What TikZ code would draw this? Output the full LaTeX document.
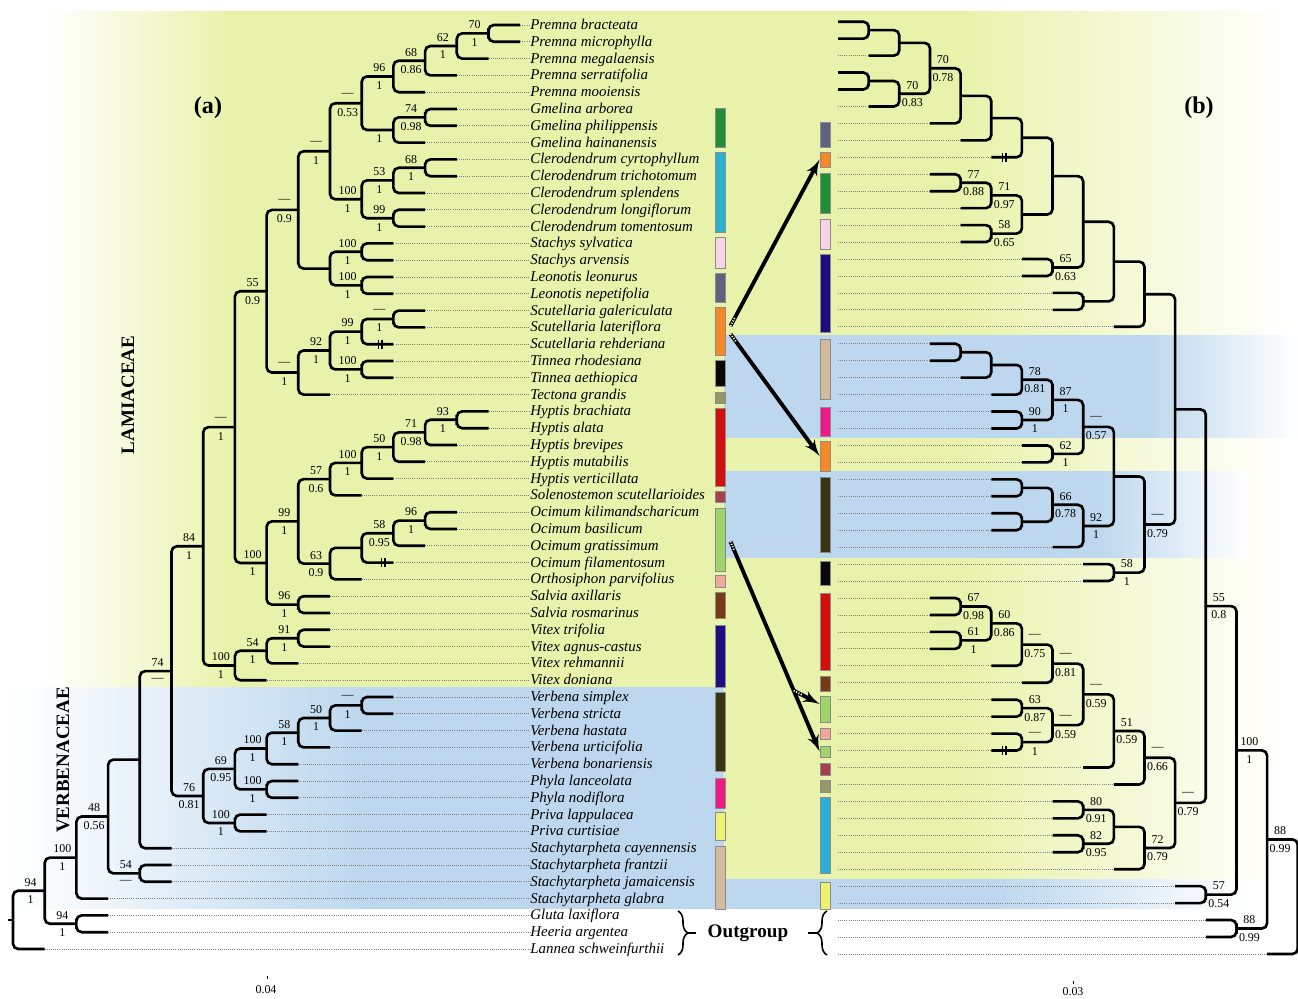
\documentclass[tikz,border=0pt]{standalone}
\usepackage{fontspec}
\setmainfont{Liberation Serif}
\usetikzlibrary{calc,fit,arrows,decorations.pathreplacing}
\definecolor{ylw}{RGB}{233,242,170}
\definecolor{blu}{RGB}{189,216,238}
\definecolor{cgmel}{RGB}{31,143,56}
\definecolor{ccler}{RGB}{44,176,210}
\definecolor{cstac}{RGB}{248,212,230}
\definecolor{cleon}{RGB}{94,100,128}
\definecolor{cscut}{RGB}{246,136,40}
\definecolor{ctinn}{RGB}{8,8,8}
\definecolor{ctect}{RGB}{150,152,106}
\definecolor{chypt}{RGB}{210,16,14}
\definecolor{csole}{RGB}{166,64,80}
\definecolor{cocim}{RGB}{158,212,108}
\definecolor{corth}{RGB}{242,168,152}
\definecolor{csalv}{RGB}{120,58,20}
\definecolor{cvitx}{RGB}{28,14,128}
\definecolor{cverb}{RGB}{58,52,18}
\definecolor{cphyl}{RGB}{238,26,134}
\definecolor{cpriv}{RGB}{238,242,114}
\definecolor{cstta}{RGB}{210,186,156}
\tikzset{
    br/.style={draw, line width=1.5pt, rounded corners=3pt},
    tipline/.style={draw=black!50, line width=0.4pt, dash pattern=on 0.4pt off 0.8pt},
    taxon/.style={anchor=base west, inner sep=0pt, font=\fontsize{8.5}{9}\selectfont\itshape},
    sup/.style={inner sep=0pt, font=\fontsize{6.8}{7}\selectfont},
    bar/.style={draw=black!45, line width=0.5pt, inner sep=0pt},
    line/.style={draw, -latex', line width=2.2pt},
    hatch/.style={draw=white, line width=1.1pt, dash pattern=on 0.6pt off 0.9pt},
    brk/.style={draw, line width=0.8pt},
    brc/.style={draw, line width=0.9pt, decorate, decoration={brace, amplitude=0.2cm}},
    family/.style={font=\fontsize{10.8}{11}\selectfont\bfseries, rotate=90},
    panel/.style={font=\fontsize{13.7}{14}\selectfont\bfseries}
}
% clade of the left tree: name, level, child, child, above, below
\newcommand\cladeL[6]{%
    \coordinate (tmp) at ($(#3)!.5!(#4)$);
    \coordinate (#1) at (tmp -| L#2);
    \draw[br] (#3) -| (#1) |- (#4);
    \node[sup] (#1t) at ($(#1)+(-14,-8.5)$) {#5};
    \node[sup] (#1b) at ($(#1)+(-14,9)$) {#6};}
% clade of the right tree
\newcommand\cladeR[6]{%
    \coordinate (tmp) at ($(#3)!.5!(#4)$);
    \coordinate (#1) at (tmp -| M#2);
    \draw[br] (#3) -| (#1) |- (#4);
    \node[sup] (#1t) at ($(#1)+(13,-8.5)$) {#5};
    \node[sup] (#1b) at ($(#1)+(13,9)$) {#6};}
\newcommand\brkmark[1]{%
    \draw[brk] ($(#1)+(-1.7,-4.5)$) -- ++(0,9) ($(#1)+(1.7,-4.5)$) -- ++(0,9);}
% colour band fading in strips: colour, x white, x full, y top, y bottom
\newcommand\fade[5]{%
    \foreach \s in {0,...,39} {
        \pgfmathtruncatemacro\p{100*(\s+0.5)/40}
        \fill[#1!\p!white] ({#2+(#3-#2)*\s/40},#4) rectangle ({#2+(#3-#2)*(\s+1)/40},#5);
    }}

\begin{document}
\begin{tikzpicture}[x=0.02cm, y=-0.02cm]
    \useasboundingbox (0,0) rectangle (1298,999);

    % background bands
    \fade{ylw}{45}{230}{11}{687}
    \fill[ylw] (229,11) rectangle (725,687);
    \fade{blu}{10}{360}{687}{909}
    \fill[blu] (359,687) rectangle (725,909);
    \fill[ylw] (724,11) rectangle (961,879);
    \fade{ylw}{1290}{960}{11}{879}
    \fill[blu] (724,335) rectangle (1151,438);
    \fade{blu}{1298}{1150}{335}{438}
    \fill[blu] (724,471) rectangle (1101,558);
    \fade{blu}{1250}{1100}{471}{558}
    \fill[blu] (724,879) rectangle (1001,909);
    \fade{blu}{1245}{1000}{879}{909}

    % levels
    \foreach \k in {0,...,16} \coordinate (L\k) at ({13+31.7*\k},0);
    \foreach \k in {0,...,15} \coordinate (M\k) at ({838+30.65*\k},0);

    % colour bars, left
    \node[bar, fill=cgmel, fit={(715,108) (725,147)}] (lgmel) {};
    \node[bar, fill=ccler, fit={(715,152) (725,232)}] (lcler) {};
    \node[bar, fill=cstac, fit={(715,237) (725,268)}] (lstac) {};
    \node[bar, fill=cleon, fit={(715,273) (725,302)}] (lleon) {};
    \node[bar, fill=cscut, fit={(715,307) (725,355)}] (lscut) {};
    \node[bar, fill=ctinn, fit={(715,360) (725,386)}] (ltinn) {};
    \node[bar, fill=ctect, fit={(715,392) (725,403)}] (ltect) {};
    \node[bar, fill=chypt, fit={(715,408) (725,486)}] (lhypt) {};
    \node[bar, fill=csole, fit={(715,491) (725,502)}] (lsole) {};
    \node[bar, fill=cocim, fit={(715,508) (725,571)}] (locim) {};
    \node[bar, fill=corth, fit={(715,575) (725,587)}] (lorth) {};
    \node[bar, fill=csalv, fit={(715,592) (725,618)}] (lsalv) {};
    \node[bar, fill=cvitx, fit={(715,625) (725,687)}] (lvitx) {};
    \node[bar, fill=cverb, fit={(715,692) (725,771)}] (lverb) {};
    \node[bar, fill=cphyl, fit={(715,778) (725,808)}] (lphyl) {};
    \node[bar, fill=cpriv, fit={(715,812) (725,840)}] (lpriv) {};
    \node[bar, fill=cstta, fit={(715,846) (725,909)}] (lstta) {};
    % colour bars, right
    \node[bar, fill=cleon, fit={(820,122) (830,147)}] (rleon) {};
    \node[bar, fill=cscut, fit={(820,152) (830,167)}] (rscut1) {};
    \node[bar, fill=cgmel, fit={(820,173) (830,213)}] (rgmel) {};
    \node[bar, fill=cstac, fit={(820,219) (830,249)}] (rstac) {};
    \node[bar, fill=cvitx, fit={(820,254) (830,332)}] (rvitx) {};
    \node[bar, fill=cstta, fit={(820,339) (830,399)}] (rstta) {};
    \node[bar, fill=cphyl, fit={(820,407) (830,436)}] (rphyl) {};
    \node[bar, fill=cscut, fit={(820,441) (830,471)}] (rscut2) {};
    \node[bar, fill=cverb, fit={(820,477) (830,552)}] (rverb) {};
    \node[bar, fill=ctinn, fit={(820,561) (830,585)}] (rtinn) {};
    \node[bar, fill=chypt, fit={(820,593) (830,670)}] (rhypt) {};
    \node[bar, fill=csalv, fit={(820,676) (830,691)}] (rsalv) {};
    \node[bar, fill=cocim, fit={(820,696) (830,722)}] (rocim1) {};
    \node[bar, fill=corth, fit={(820,728) (830,739)}] (rorth) {};
    \node[bar, fill=cocim, fit={(820,746) (830,757)}] (rocim2) {};
    \node[bar, fill=csole, fit={(820,763) (830,775)}] (rsole) {};
    \node[bar, fill=ctect, fit={(820,780) (830,792)}] (rtect) {};
    \node[bar, fill=ccler, fit={(820,797) (830,873)}] (rcler) {};
    \node[bar, fill=cpriv, fit={(820,882) (830,909)}] (rpriv) {};

    % taxa and tips, left tree
    \foreach \nm/\lv [count=\i] in {Premna bracteata/16, Premna microphylla/16,
        Premna megalaensis/15, Premna serratifolia/14, Premna mooiensis/13,
        Gmelina arborea/14, Gmelina philippensis/14, Gmelina hainanensis/13,
        Clerodendrum cyrtophyllum/14, Clerodendrum trichotomum/14,
        Clerodendrum splendens/13, Clerodendrum longiflorum/13,
        Clerodendrum tomentosum/13, Stachys sylvatica/12, Stachys arvensis/12,
        Leonotis leonurus/12, Leonotis nepetifolia/12, Scutellaria galericulata/13,
        Scutellaria lateriflora/13, Scutellaria rehderiana/12, Tinnea rhodesiana/12,
        Tinnea aethiopica/12, Tectona grandis/10, Hyptis brachiata/15, Hyptis alata/15,
        Hyptis brevipes/14, Hyptis mutabilis/13, Hyptis verticillata/12,
        Solenostemon scutellarioides/11, Ocimum kilimandscharicum/14,
        Ocimum basilicum/14, Ocimum gratissimum/13, Ocimum filamentosum/12,
        Orthosiphon parvifolius/11, Salvia axillaris/10, Salvia rosmarinus/10,
        Vitex trifolia/10, Vitex agnus-castus/10, Vitex rehmannii/9, Vitex doniana/8,
        Verbena simplex/12, Verbena stricta/12, Verbena hastata/11,
        Verbena urticifolia/10, Verbena bonariensis/9, Phyla lanceolata/9,
        Phyla nodiflora/9, Priva lappulacea/8, Priva curtisiae/8,
        Stachytarpheta cayennensis/5, Stachytarpheta frantzii/5,
        Stachytarpheta jamaicensis/5, Stachytarpheta glabra/3, Gluta laxiflora/3,
        Heeria argentea/3, Lannea schweinfurthii/1} {
        \node[taxon] (s\i) at (530,{25+16.8*(\i-1)+4.5}) {\nm};
        \coordinate (t\i) at ({13+31.7*\lv},{25+16.8*(\i-1)});
        \draw[tipline] (t\i) -- (t\i -| s\i.west);
    }
    % tips, right tree
    \foreach \lv [count=\i] in {0,0,1,0,0,1,3,4,5,3,3,4,4,4,6,6,7,7,9,3,3,4,5,5,5,6,6,
        5,5,5,5,7,8,8,3,3,3,3,5,6,5,5,5,5,8,9,7,7,7,7,9,11,11,12,12,14} {
        \coordinate (v\i) at (838,{21.7+16.95*(\i-1)});
        \coordinate (u\i) at ({838+30.65*\lv},{21.7+16.95*(\i-1)});
        \draw[tipline] (v\i) -- (u\i);
    }

    % tree (a)
    \cladeL{a1}{15}{t1}{t2}{70}{1}
    \cladeL{a2}{14}{a1}{t3}{62}{1}
    \cladeL{a3}{13}{a2}{t4}{68}{0.86}
    \cladeL{a4}{12}{a3}{t5}{96}{1}
    \cladeL{a5}{13}{t6}{t7}{74}{0.98}
    \cladeL{a6}{12}{a5}{t8}{}{1}
    \cladeL{a7}{11}{a4}{a6}{—}{0.53}
    \cladeL{a8}{13}{t9}{t10}{68}{1}
    \cladeL{a9}{12}{a8}{t11}{53}{1}
    \cladeL{a10}{12}{t12}{t13}{99}{1}
    \cladeL{a11}{11}{a9}{a10}{100}{1}
    \cladeL{a12}{10}{a7}{a11}{—}{1}
    \cladeL{a13}{11}{t14}{t15}{100}{1}
    \cladeL{a14}{11}{t16}{t17}{100}{1}
    \cladeL{a15}{10}{a13}{a14}{}{}
    \cladeL{a16}{9}{a12}{a15}{—}{0.9}
    \cladeL{a17}{12}{t18}{t19}{—}{1}
    \cladeL{a18}{11}{a17}{t20}{99}{1}
    \cladeL{a19}{11}{t21}{t22}{100}{1}
    \cladeL{a20}{10}{a18}{a19}{92}{1}
    \cladeL{a21}{9}{a20}{t23}{—}{1}
    \cladeL{a22}{8}{a16}{a21}{55}{0.9}
    \cladeL{a23}{14}{t24}{t25}{93}{1}
    \cladeL{a24}{13}{a23}{t26}{71}{0.98}
    \cladeL{a25}{12}{a24}{t27}{50}{1}
    \cladeL{a26}{11}{a25}{t28}{100}{1}
    \cladeL{a27}{10}{a26}{t29}{57}{0.6}
    \cladeL{a28}{13}{t30}{t31}{96}{1}
    \cladeL{a29}{12}{a28}{t32}{58}{0.95}
    \cladeL{a30}{11}{a29}{t33}{}{}
    \cladeL{a31}{10}{a30}{t34}{63}{0.9}
    \cladeL{a32}{9}{a27}{a31}{99}{1}
    \cladeL{a33}{9}{t35}{t36}{96}{1}
    \cladeL{a34}{8}{a32}{a33}{100}{1}
    \cladeL{a35}{7}{a22}{a34}{—}{1}
    \cladeL{a36}{9}{t37}{t38}{91}{1}
    \cladeL{a37}{8}{a36}{t39}{54}{1}
    \cladeL{a38}{7}{a37}{t40}{100}{1}
    \cladeL{a39}{6}{a35}{a38}{84}{1}
    \cladeL{a40}{11}{t41}{t42}{—}{1}
    \cladeL{a41}{10}{a40}{t43}{50}{1}
    \cladeL{a42}{9}{a41}{t44}{58}{1}
    \cladeL{a43}{8}{a42}{t45}{100}{1}
    \cladeL{a44}{8}{t46}{t47}{100}{1}
    \cladeL{a45}{7}{a43}{a44}{69}{0.95}
    \cladeL{a46}{7}{t48}{t49}{100}{1}
    \cladeL{a47}{6}{a45}{a46}{76}{0.81}
    \cladeL{a48}{5}{a39}{a47}{74}{—}
    \cladeL{a49}{4}{a48}{t50}{}{}
    \cladeL{a50}{4}{t51}{t52}{54}{—}
    \cladeL{a51}{3}{a49}{a50}{48}{0.56}
    \cladeL{a52}{2}{a51}{t53}{100}{1}
    \cladeL{a53}{2}{t54}{t55}{94}{1}
    \cladeL{a54}{1}{a52}{a53}{94}{1}
    \cladeL{a55}{0}{a54}{t56}{}{}
    \coordinate (stub) at ($(a55)+(-5,0)$);
    \draw[br] (a55) -- (stub);
    \coordinate (k20) at ($(t20)+(-13,0)$);
    \coordinate (k33) at ($(t33)+(-10,0)$);
    \brkmark{k20}
    \brkmark{k33}

    % tree (b)
    \cladeR{b1}{1}{u1}{u2}{}{}
    \cladeR{b2}{2}{b1}{u3}{}{}
    \cladeR{b3}{1}{u4}{u5}{}{}
    \cladeR{b4}{2}{b3}{u6}{70}{0.83}
    \cladeR{b5}{3}{b2}{b4}{70}{0.78}
    \cladeR{b6}{4}{b5}{u7}{}{}
    \cladeR{b7}{5}{b6}{u8}{}{}
    \cladeR{b8}{6}{b7}{u9}{}{}
    \cladeR{b9}{4}{u10}{u11}{77}{0.88}
    \cladeR{b10}{5}{b9}{u12}{71}{0.97}
    \cladeR{b11}{5}{u13}{u14}{58}{0.65}
    \cladeR{b12}{6}{b10}{b11}{}{}
    \cladeR{b13}{7}{b8}{b12}{}{}
    \cladeR{b14}{7}{u15}{u16}{65}{0.63}
    \cladeR{b15}{8}{b13}{b14}{}{}
    \cladeR{b16}{8}{u17}{u18}{}{}
    \cladeR{b17}{9}{b15}{b16}{}{}
    \cladeR{b18}{10}{b17}{u19}{}{}
    \cladeR{b19}{4}{u20}{u21}{}{}
    \cladeR{b20}{5}{b19}{u22}{}{}
    \cladeR{b21}{6}{b20}{u23}{78}{0.81}
    \cladeR{b22}{6}{u24}{u25}{90}{1}
    \cladeR{b23}{7}{b21}{b22}{87}{1}
    \cladeR{b24}{7}{u26}{u27}{62}{1}
    \cladeR{b25}{8}{b23}{b24}{—}{0.57}
    \cladeR{b26}{6}{u28}{u29}{}{}
    \cladeR{b27}{6}{u30}{u31}{}{}
    \cladeR{b28}{7}{b26}{b27}{66}{0.78}
    \cladeR{b29}{8}{b28}{u32}{92}{1}
    \cladeR{b30}{9}{b25}{b29}{}{}
    \cladeR{b31}{9}{u33}{u34}{58}{1}
    \cladeR{b32}{10}{b30}{b31}{—}{0.79}
    \cladeR{b33}{11}{b18}{b32}{}{}
    \cladeR{b34}{4}{u35}{u36}{67}{0.98}
    \cladeR{b35}{4}{u37}{u38}{61}{1}
    \cladeR{b36}{5}{b34}{b35}{60}{0.86}
    \cladeR{b37}{6}{b36}{u39}{—}{0.75}
    \cladeR{b38}{7}{b37}{u40}{—}{0.81}
    \cladeR{b39}{6}{u41}{u42}{63}{0.87}
    \cladeR{b40}{6}{u43}{u44}{—}{1}
    \cladeR{b41}{7}{b39}{b40}{—}{0.59}
    \cladeR{b42}{8}{b38}{b41}{—}{0.59}
    \cladeR{b43}{9}{b42}{u45}{51}{0.59}
    \cladeR{b44}{10}{b43}{u46}{—}{0.66}
    \cladeR{b45}{8}{u47}{u48}{80}{0.91}
    \cladeR{b46}{8}{u49}{u50}{82}{0.95}
    \cladeR{b47}{9}{b45}{b46}{}{}
    \cladeR{b48}{10}{b47}{u51}{72}{0.79}
    \cladeR{b49}{11}{b44}{b48}{—}{0.79}
    \cladeR{b50}{12}{b33}{b49}{55}{0.8}
    \cladeR{b51}{12}{u52}{u53}{57}{0.54}
    \cladeR{b52}{13}{b50}{b51}{100}{1}
    \cladeR{b53}{13}{u54}{u55}{88}{0.99}
    \cladeR{b54}{14}{b52}{b53}{88}{0.99}
    \cladeR{b55}{15}{b54}{u56}{}{}
    \coordinate (k9) at ($(u9)+(13,0)$);
    \coordinate (k44) at ($(u44)+(13,0)$);
    \brkmark{k9}
    \brkmark{k44}

    % arrows between the two trees
    \coordinate (ar1s) at ($(lscut.east)+(5,-5)$);
    \coordinate (ar2s) at ($(lscut.east)+(5,3)$);
    \coordinate (ar3s) at ($(locim.east)+(5,2)$);
    \coordinate (ar4s) at ($(ar3s)!0.71!(rocim2.west)$);
    \coordinate (ar4e) at ($(rocim1.west)+(0,-5)$);
    \path [line] (ar1s) -- (rscut1.west);
    \path [line] (ar2s) -- (rscut2.west);
    \path [line] (ar3s) -- (rocim2.west);
    \path [line] (ar4s) -- (ar4e);
    \path [hatch] (ar1s) -- ($(ar1s)!0.2cm!(rscut1.west)$);
    \path [hatch] (ar2s) -- ($(ar2s)!0.2cm!(rscut2.west)$);
    \path [hatch] (ar3s) -- ($(ar3s)!0.2cm!(rocim2.west)$);
    \path [hatch] (ar4s) -- ($(ar4s)!0.2cm!(ar4e)$);

    % outgroup braces
    \node[font=\fontsize{10.9}{11}\selectfont\bfseries] (og) at (748,933) {Outgroup};
    \coordinate (ogl1) at (678,911);
    \coordinate (ogl2) at (678,955);
    \coordinate (ogl3) at (688,933);
    \coordinate (ogr1) at (827,955);
    \coordinate (ogr2) at (827,911);
    \coordinate (ogr3) at (817,933);
    \draw[brc] (ogl1) -- (ogl2);
    \draw[brc] (ogr1) -- (ogr2);
    \draw[line width=0.9pt] (ogl3) -- ($(og.west)+(-6,0)$);
    \draw[line width=0.9pt] (ogr3) -- ($(og.east)+(14,0)$);

    % panel and family labels
    \node[panel] (pa) at (208,108) {(a)};
    \node[panel] (pb) at (1199,108) {(b)};
    \node[family] (lam) at (128,395) {LAMIACEAE};
    \node[family] (verb) at (63,760) {VERBENACEAE};

    % scales
    \node[sup] (sca) at (266,990) {0.04};
    \node[sup] (scb) at (1073,992) {0.03};
    \coordinate (sca1) at (267,976);
    \coordinate (scb1) at (1073,981);
    \draw[line width=0.4pt] (sca1) -- ++(0,3);
    \draw[line width=0.4pt] (scb1) -- ++(0,3);
\end{tikzpicture}
\end{document}
